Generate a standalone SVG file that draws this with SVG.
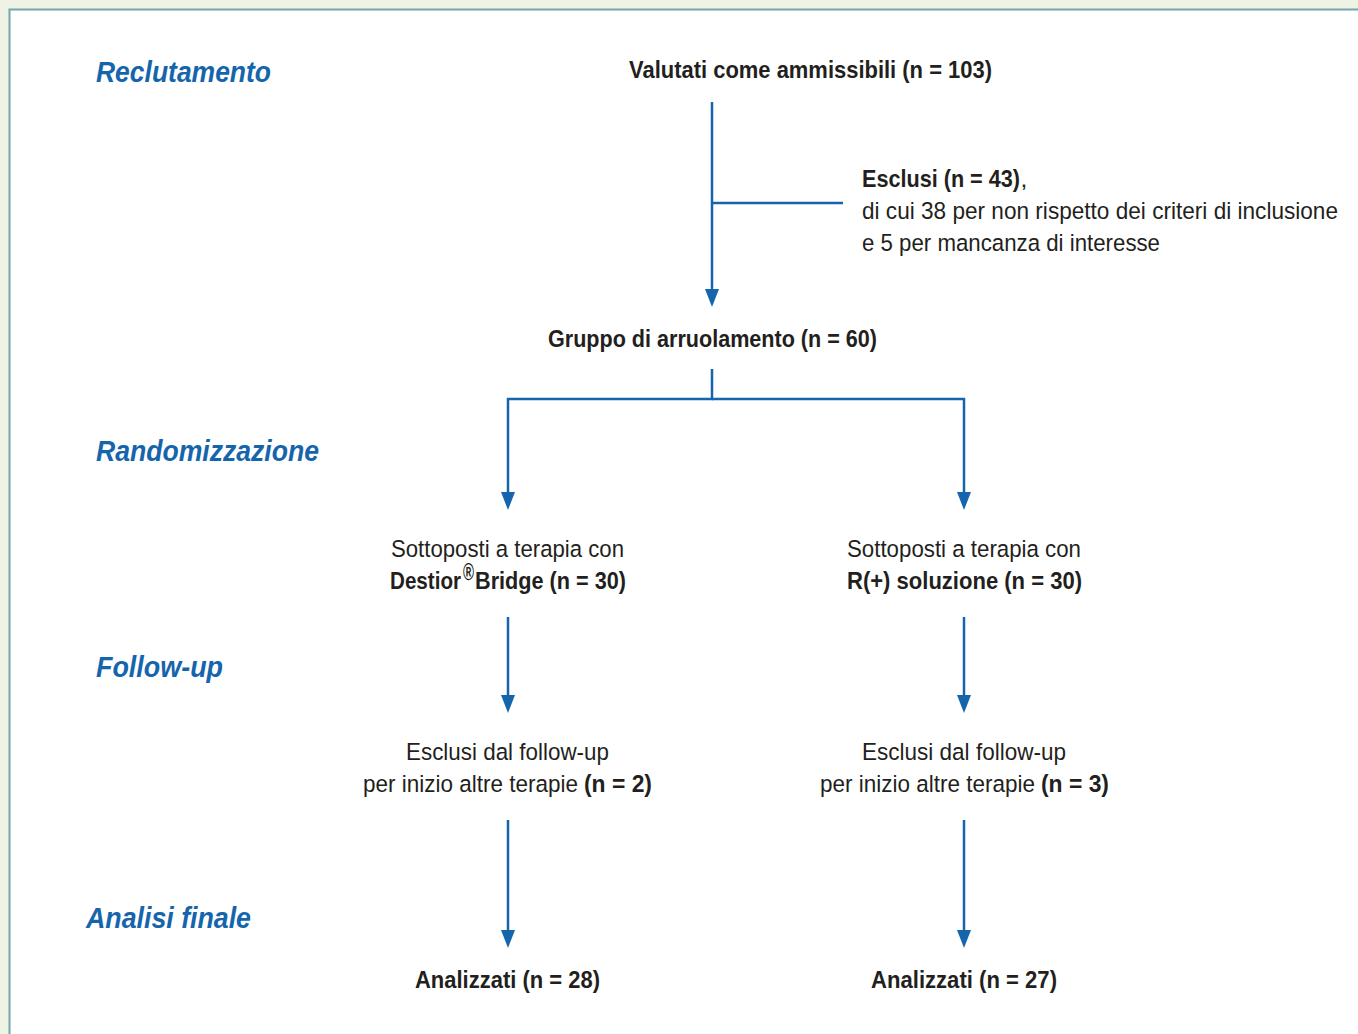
<svg xmlns="http://www.w3.org/2000/svg" width="1358" height="1034" viewBox="0 0 1358 1034">
<style>
.t{font-family:"Liberation Sans",Arial,sans-serif;font-size:24.5px;fill:#231f20}
.b{font-weight:bold}
.h{font-family:"Liberation Sans",Arial,sans-serif;font-size:30px;font-weight:bold;font-style:italic;fill:#1565ad}
.c{stroke:#1565ad;stroke-width:2.5;fill:none}
.a{fill:#1565ad}
</style>
<rect x="0" y="0" width="1358" height="1034" fill="#eef3e4"/>
<rect x="9.5" y="9.5" width="1360" height="1040" fill="#ffffff" stroke="#72a4b1" stroke-width="2"/>
<g id="labels">
<text class="h" x="96" y="82" textLength="175" lengthAdjust="spacingAndGlyphs">Reclutamento</text>
<text class="h" x="96" y="461" textLength="223" lengthAdjust="spacingAndGlyphs">Randomizzazione</text>
<text class="h" x="96" y="677" textLength="127" lengthAdjust="spacingAndGlyphs">Follow-up</text>
<text class="h" x="86" y="928" textLength="165" lengthAdjust="spacingAndGlyphs">Analisi finale</text>
</g>
<g id="connectors">
<line class="c" x1="712" y1="102" x2="712" y2="290"/>
<path class="a" d="M705,289 L719,289 L712,307 Z"/>
<line class="c" x1="712" y1="203" x2="843" y2="203"/>
<polyline class="c" points="712,369 712,399 508,399 508,494"/>
<polyline class="c" points="712,399 964,399 964,494"/>
<path class="a" d="M501,492 L515,492 L508,510 Z"/>
<path class="a" d="M957,492 L971,492 L964,510 Z"/>
<line class="c" x1="508" y1="617" x2="508" y2="697"/>
<line class="c" x1="964" y1="617" x2="964" y2="697"/>
<path class="a" d="M501,695 L515,695 L508,713 Z"/>
<path class="a" d="M957,695 L971,695 L964,713 Z"/>
<line class="c" x1="508" y1="820" x2="508" y2="932"/>
<line class="c" x1="964" y1="820" x2="964" y2="932"/>
<path class="a" d="M501,930 L515,930 L508,948 Z"/>
<path class="a" d="M957,930 L971,930 L964,948 Z"/>
</g>
<g id="n-valutati"><text class="t b" x="629" y="78" textLength="363" lengthAdjust="spacingAndGlyphs">Valutati come ammissibili (n = 103)</text></g>
<g id="n-esclusi">
<text class="t b" x="862" y="187" textLength="158" lengthAdjust="spacingAndGlyphs">Esclusi (n = 43)</text>
<text class="t" x="1020.5" y="187">,</text>
<text class="t" x="862" y="219" textLength="476" lengthAdjust="spacingAndGlyphs">di cui 38 per non rispetto dei criteri di inclusione</text>
<text class="t" x="862" y="251" textLength="298" lengthAdjust="spacingAndGlyphs">e 5 per mancanza di interesse</text>
</g>
<g id="n-gruppo"><text class="t b" x="548" y="347" textLength="329" lengthAdjust="spacingAndGlyphs">Gruppo di arruolamento (n = 60)</text></g>
<g id="n-destior">
<text class="t" x="391" y="557" textLength="233" lengthAdjust="spacingAndGlyphs">Sottoposti a terapia con</text>
<text class="t b" x="390" y="589" textLength="71" lengthAdjust="spacingAndGlyphs">Destior</text>
<text class="t b" x="463" y="580" font-size="11" textLength="11" lengthAdjust="spacingAndGlyphs">®</text>
<text class="t b" x="475" y="589" textLength="151" lengthAdjust="spacingAndGlyphs">Bridge (n = 30)</text>
</g>
<g id="n-rplus">
<text class="t" x="847" y="557" textLength="234" lengthAdjust="spacingAndGlyphs">Sottoposti a terapia con</text>
<text class="t b" x="847" y="589" textLength="235" lengthAdjust="spacingAndGlyphs">R(+) soluzione (n = 30)</text>
</g>
<g id="n-escl-l">
<text class="t" x="406" y="760" textLength="203" lengthAdjust="spacingAndGlyphs">Esclusi dal follow-up</text>
<text class="t" x="363" y="792" textLength="215" lengthAdjust="spacingAndGlyphs">per inizio altre terapie</text>
<text class="t b" x="584" y="792" textLength="68" lengthAdjust="spacingAndGlyphs">(n = 2)</text>
</g>
<g id="n-escl-r">
<text class="t" x="862" y="760" textLength="204" lengthAdjust="spacingAndGlyphs">Esclusi dal follow-up</text>
<text class="t" x="820" y="792" textLength="215" lengthAdjust="spacingAndGlyphs">per inizio altre terapie</text>
<text class="t b" x="1041" y="792" textLength="68" lengthAdjust="spacingAndGlyphs">(n = 3)</text>
</g>
<g id="n-anal-l"><text class="t b" x="415" y="988" textLength="185" lengthAdjust="spacingAndGlyphs">Analizzati (n = 28)</text></g>
<g id="n-anal-r"><text class="t b" x="871" y="988" textLength="186" lengthAdjust="spacingAndGlyphs">Analizzati (n = 27)</text></g>
</svg>
